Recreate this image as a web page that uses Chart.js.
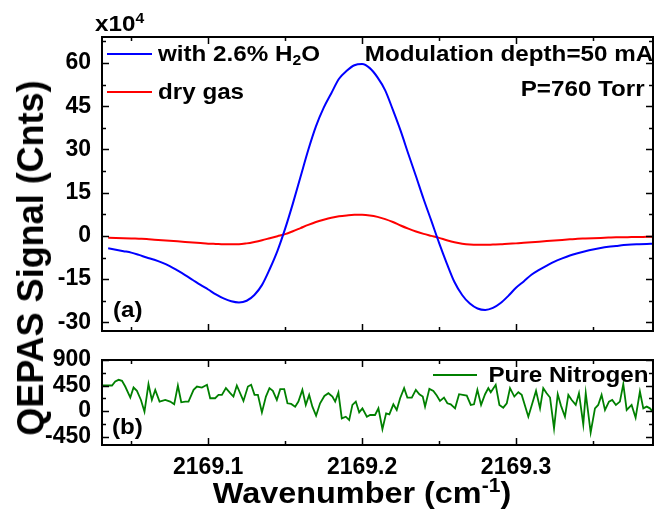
<!DOCTYPE html>
<html>
<head>
<meta charset="utf-8">
<script src="https://cdn.jsdelivr.net/npm/chart.js@4.4.1/dist/chart.umd.min.js"></script>
<style>
  body { margin: 0; background: #fff; }
  #wrap { position: relative; width: 654px; height: 510px; overflow: hidden;
          font-family: "Liberation Sans", Arial, sans-serif; font-weight: bold; color: #000; }
  canvas { position: absolute; left: 0; top: 0; }
  .t { position: absolute; white-space: nowrap; font-size: 22px; line-height: 1; }
  .l { transform: scaleX(1.1); transform-origin: left top; }
  .r { transform: scaleX(1.1); transform-origin: right top; }
  .sw { position: absolute; height: 2px; }
  sub { font-size: 0.65em; vertical-align: -0.3em; line-height: 0; }
  sup { font-size: 0.65em; vertical-align: 0.55em; line-height: 0; }
</style>
</head>
<body>
<div id="wrap">
  <canvas id="top" width="654" height="510"></canvas>
  <canvas id="bottom" width="654" height="510"></canvas>

  <div class="t l" style="left:95px;top:13px;">x10<sup>4</sup></div>

  <div class="sw" style="left:107px;top:53px;width:45px;background:#0000ff;"></div>
  <div class="t l" style="left:158px;top:43px;">with 2.6% H<sub>2</sub>O</div>
  <div class="sw" style="left:107px;top:91px;width:45px;background:#ff0000;"></div>
  <div class="t l" style="left:158px;top:81px;">dry gas</div>

  <div class="t r" style="right:1px;top:43px;">Modulation depth=50 mA</div>
  <div class="t r" style="right:9px;top:78px;">P=760 Torr</div>

  <div class="t l" style="left:113px;top:299px;">(a)</div>
  <div class="t l" style="left:112px;top:416px;">(b)</div>

  <div class="sw" style="left:433px;top:374px;width:44px;background:#008000;"></div>
  <div class="t r" style="right:6px;top:364px;">Pure Nitrogen</div>

  <div class="t" style="left:362px;top:478px;font-size:30px;transform:translateX(-50%) scaleX(1.08);">Wavenumber (cm<sup>-1</sup>)</div>
  <div class="t" style="left:31px;top:258px;font-size:36px;transform:translate(-50%,-50%) rotate(-90deg);">QEPAS Signal (Cnts)</div>
</div>

<script>
// panel (a): second-harmonic signal, units of 1e4 counts
const wavenumber = [
  2169.035, 2169.040, 2169.045, 2169.050, 2169.055, 2169.060, 2169.065, 2169.070, 2169.075, 2169.080,
  2169.085, 2169.090, 2169.095, 2169.100, 2169.105, 2169.110, 2169.115, 2169.120, 2169.125, 2169.130,
  2169.135, 2169.140, 2169.145, 2169.150, 2169.155, 2169.160, 2169.165, 2169.170, 2169.175, 2169.180,
  2169.185, 2169.190, 2169.195, 2169.200, 2169.205, 2169.210, 2169.215, 2169.220, 2169.225, 2169.230,
  2169.235, 2169.240, 2169.245, 2169.250, 2169.255, 2169.260, 2169.265, 2169.270, 2169.275, 2169.280,
  2169.285, 2169.290, 2169.295, 2169.300, 2169.305, 2169.310, 2169.315, 2169.320, 2169.325, 2169.330,
  2169.335, 2169.340, 2169.345, 2169.350, 2169.355, 2169.360, 2169.365, 2169.370, 2169.375, 2169.380,
  2169.385, 2169.390
];
const signalH2O = [
  -4.3, -4.8, -5.3, -5.8, -6.6, -7.5, -8.3, -9.3, -10.5, -12.0,
  -13.6, -15.3, -17.0, -18.6, -20.3, -21.7, -22.7, -23.1, -22.5, -20.5,
  -17.0, -11.5, -5.2, 2.5, 11.2, 20.5, 29.8, 38.0, 44.4, 49.5,
  54.5, 57.3, 59.2, 59.6, 58.2, 55.0, 50.5, 43.7, 36.5, 28.5,
  20.7, 12.7, 5.2, -2.4, -9.5, -16.0, -20.5, -23.5, -25.2, -25.7,
  -25.0, -23.3, -20.8, -18.0, -15.8, -13.5, -11.8, -10.3, -8.9, -7.8,
  -6.8, -6.0, -5.3, -4.7, -4.2, -3.8, -3.5, -3.2, -3.0, -2.9,
  -2.8, -2.7
];
const signalDry = [
  -0.6, -0.7, -0.8, -0.9, -1.0, -1.1, -1.3, -1.5, -1.7, -1.9,
  -2.1, -2.3, -2.5, -2.7, -2.8, -2.9, -2.9, -2.9, -2.6, -2.1,
  -1.5, -0.8, -0.1, 0.6, 1.6, 2.7, 3.8, 4.8, 5.6, 6.3,
  6.8, 7.1, 7.3, 7.3, 7.1, 6.6, 5.8, 4.8, 3.6, 2.5,
  1.5, 0.7, 0.0, -0.7, -1.5, -2.2, -2.7, -3.0, -3.1, -3.1,
  -3.0, -2.9, -2.7, -2.6, -2.4, -2.2, -2.0, -1.8, -1.6, -1.4,
  -1.2, -1.0, -0.9, -0.8, -0.7, -0.6, -0.5, -0.5, -0.4, -0.4,
  -0.3, -0.3
];

// panel (b): pure nitrogen background, counts
const nitrogenWavenumber = [
  2169.0310, 2169.0375, 2169.0396, 2169.0418, 2169.0440, 2169.0461, 2169.0494, 2169.0515, 2169.0537, 2169.0563,
  2169.0586, 2169.0612, 2169.0634, 2169.0656, 2169.0684, 2169.0721, 2169.0753, 2169.0779, 2169.0803, 2169.0825,
  2169.0851, 2169.0872, 2169.0905, 2169.0927, 2169.0959, 2169.0992, 2169.1013, 2169.1045, 2169.1067, 2169.1089,
  2169.1115, 2169.1143, 2169.1164, 2169.1186, 2169.1229, 2169.1258, 2169.1279, 2169.1301, 2169.1323, 2169.1349,
  2169.1375, 2169.1398, 2169.1420, 2169.1446, 2169.1468, 2169.1494, 2169.1515, 2169.1539, 2169.1565, 2169.1586,
  2169.1612, 2169.1634, 2169.1656, 2169.1677, 2169.1701, 2169.1727, 2169.1755, 2169.1781, 2169.1807, 2169.1825,
  2169.1846, 2169.1868, 2169.1894, 2169.1916, 2169.1937, 2169.1959, 2169.1981, 2169.2002, 2169.2031, 2169.2052,
  2169.2084, 2169.2106, 2169.2132, 2169.2156, 2169.2177, 2169.2203, 2169.2225, 2169.2247, 2169.2273, 2169.2294,
  2169.2323, 2169.2349, 2169.2372, 2169.2394, 2169.2409, 2169.2437, 2169.2463, 2169.2485, 2169.2506, 2169.2532,
  2169.2554, 2169.2576, 2169.2604, 2169.2630, 2169.2654, 2169.2680, 2169.2706, 2169.2727, 2169.2749, 2169.2773,
  2169.2799, 2169.2820, 2169.2836, 2169.2868, 2169.2892, 2169.2917, 2169.2940, 2169.2961, 2169.2989, 2169.3015,
  2169.3037, 2169.3080, 2169.3106, 2169.3130, 2169.3156, 2169.3177, 2169.3199, 2169.3221, 2169.3247, 2169.3271,
  2169.3292, 2169.3318, 2169.3340, 2169.3362, 2169.3388, 2169.3409, 2169.3437, 2169.3453, 2169.3485, 2169.3513,
  2169.3534, 2169.3556, 2169.3578, 2169.3604, 2169.3625, 2169.3649, 2169.3675, 2169.3697, 2169.3719, 2169.3751,
  2169.3777, 2169.3805, 2169.3827, 2169.3849, 2169.3870, 2169.3892
];
const nitrogenSignal = [
  450, 450, 520, 550, 533, 432, 237, 414, 355, 195,
  -12, 473, 195, 373, 166, 195, 166, 118, 450, 154,
  166, 166, 373, 432, 414, 462, 225, 225, 284, 284,
  403, 314, 255, 450, 178, 432, 462, 284, 284, -24,
  255, 403, 355, 195, 385, 385, 136, 124, 77, 166,
  373, 107, 284, 77, -83, 136, 266, 314, 255, 166,
  326, -130, -101, -160, 107, 166, -24, 47, -101, -71,
  -71, 47, -320, -41, -59, 118, 18, 225, 403, 237,
  237, 373, 296, 255, 77, 391, 355, 272, 178, 237,
  136, 118, 47, 296, 284, 272, 107, 118, 373, 107,
  296, 403, 331, 462, 107, 59, 136, 403, 255, 331,
  284, -101, 136, 355, 47, 403, 314, 237, -308, 296,
  95, -101, 284, 195, 107, 314, -237, 314, -379, 47,
  107, 284, 18, 166, 195, 107, 166, 473, 18, 107,
  -118, 343, 47, 77, 47, -24
];

// axis ranges and tick labels
const xMin = 2169.031, xMax = 2169.389;
const xTicks = [2169.1, 2169.2, 2169.3];
const topMin = -33, topMax = 69;
const topTicks = [-30, -15, 0, 15, 30, 45, 60];
const botMin = -600, botMax = 900;
const botTicks = [-450, 0, 450, 900];

const tickFont = { family: 'Liberation Sans', size: 23, weight: 'bold' };
const setTicks = vals => scale => { scale.ticks = vals.map(v => ({ value: v })); };

// inward major/minor tick marks on all four sides + box frame
function tickMarks(s) {
  const vals = s.ticks.map(t => t.value);
  const half = (vals[1] - vals[0]) / 2;
  let k = 0;
  while (vals[0] - (k + 1) * half >= s.min - 1e-9) k++;
  const out = [];
  for (let i = -k; vals[0] + i * half <= s.max + 1e-9; i++) {
    out.push({ v: vals[0] + i * half, major: i % 2 === 0 });
  }
  return out;
}
const frameTicks = {
  id: 'frameTicks',
  afterDraw(chart) {
    const { ctx, chartArea: a, scales } = chart;
    ctx.save();
    ctx.strokeStyle = '#000';
    ctx.lineWidth = 1.5;
    ctx.beginPath();
    tickMarks(scales.x).forEach(t => {
      const p = Math.round(scales.x.getPixelForValue(t.v)) + 0.5;
      const len = t.major ? 7 : 4;
      ctx.moveTo(p, a.bottom); ctx.lineTo(p, a.bottom - len);
      ctx.moveTo(p, a.top); ctx.lineTo(p, a.top + len);
    });
    tickMarks(scales.y).forEach(t => {
      const p = Math.round(scales.y.getPixelForValue(t.v)) + 0.5;
      const len = t.major ? 7 : 4;
      ctx.moveTo(a.left, p); ctx.lineTo(a.left + len, p);
      ctx.moveTo(a.right, p); ctx.lineTo(a.right - len, p);
    });
    ctx.stroke();
    ctx.lineWidth = 2;
    ctx.strokeRect(a.left, a.top, a.right - a.left, a.bottom - a.top);
    ctx.restore();
  }
};

const pairs = (xs, ys) => xs.map((x, i) => ({ x: x, y: ys[i] }));

new Chart(document.getElementById('top'), {
  type: 'line',
  data: {
    datasets: [
      { label: 'with 2.6% H2O', data: pairs(wavenumber, signalH2O), borderColor: '#0000ff',
        borderWidth: 2, pointRadius: 0, cubicInterpolationMode: 'monotone' },
      { label: 'dry gas', data: pairs(wavenumber, signalDry), borderColor: '#ff0000',
        borderWidth: 2, pointRadius: 0, cubicInterpolationMode: 'monotone' }
    ]
  },
  options: {
    responsive: false,
    animation: false,
    events: [],
    layout: { padding: { left: 0, top: 37, right: 1, bottom: 179 } },
    plugins: { legend: { display: false }, tooltip: { enabled: false } },
    scales: {
      x: {
        type: 'linear', min: xMin, max: xMax,
        afterBuildTicks: setTicks(xTicks),
        ticks: { display: false },
        grid: { display: false, drawTicks: false }, border: { display: false },
        afterFit: s => { s.height = 0; }
      },
      y: {
        min: topMin, max: topMax,
        afterBuildTicks: setTicks(topTicks),
        ticks: { autoSkip: false, font: tickFont, color: '#000', padding: 11 },
        grid: { display: false, drawTicks: false }, border: { display: false },
        afterFit: s => { s.width = 102; }
      }
    }
  },
  plugins: [frameTicks]
});

new Chart(document.getElementById('bottom'), {
  type: 'line',
  data: {
    datasets: [
      { label: 'Pure Nitrogen', data: pairs(nitrogenWavenumber, nitrogenSignal), borderColor: '#008000',
        borderWidth: 1.8, pointRadius: 0, tension: 0 }
    ]
  },
  options: {
    responsive: false,
    animation: false,
    events: [],
    layout: { padding: { left: 0, top: 360, right: 1, bottom: 25 } },
    plugins: { legend: { display: false }, tooltip: { enabled: false } },
    scales: {
      x: {
        type: 'linear', min: xMin, max: xMax,
        afterBuildTicks: setTicks(xTicks),
        ticks: { autoSkip: false, font: tickFont, color: '#000', padding: 9,
                 maxRotation: 0, callback: v => v.toFixed(1) },
        grid: { display: false, drawTicks: false }, border: { display: false },
        afterFit: s => { s.height = 40; }
      },
      y: {
        min: botMin, max: botMax,
        afterBuildTicks: setTicks(botTicks),
        ticks: { autoSkip: false, font: tickFont, color: '#000', padding: 11 },
        grid: { display: false, drawTicks: false }, border: { display: false },
        afterFit: s => { s.width = 102; }
      }
    }
  },
  plugins: [frameTicks]
});
</script>
</body>
</html>
